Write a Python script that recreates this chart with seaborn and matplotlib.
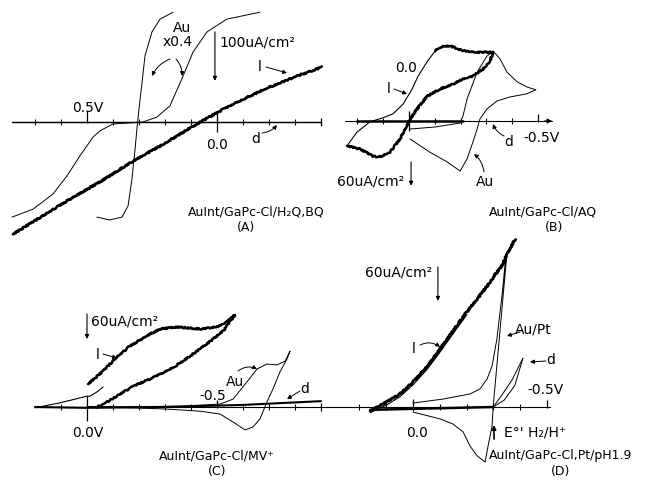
import matplotlib
matplotlib.use("Agg")
import matplotlib.pyplot as plt
import numpy as np
import pandas as pd
import seaborn as sns

# ---------------- data: potential E (V), current I (uA/cm^2) ----------------
# Panel A  AuInt/GaPc-Cl/H2Q,BQ
A_light_E = [0.785, 0.708, 0.577, 0.450, 0.323, 0.219, 0.065, -0.062, -0.192, -0.319, -0.404]
A_light_I = [-229, -204, -161, -122, -80, -49, 0, 37, 69, 96, 112]
A_au_wave_E = [0.788, 0.708, 0.631, 0.577, 0.527, 0.477, 0.450, 0.400, 0.285, 0.231, 0.181, 0.135, 0.092, 0.038, -0.038, -0.165]
A_au_wave_I = [-194, -178, -147, -110, -69, -31, -18, -4, 0, 10, 33, 88, 143, 184, 210, 224]
A_au_steep_E = [0.462, 0.412, 0.365, 0.342, 0.327, 0.315, 0.308, 0.300, 0.288, 0.277, 0.250, 0.219, 0.169]
A_au_steep_I = [-194, -200, -194, -171, -116, -55, -14, 27, 82, 135, 184, 210, 224]
A_dark_E = [0.79, -0.40]
A_dark_I = [0, 0]

# Panel B  AuInt/GaPc-Cl/AQ
B_light_thick_E = [0.240, 0.190, 0.140, 0.112, 0.074, 0.035, 0.008, -0.004, -0.031, -0.070, -0.120, -0.171,
                   -0.209, -0.248, -0.287, -0.314, -0.326, -0.287, -0.236, -0.198, -0.159, -0.120, -0.101]
B_light_thick_I = [-62, -70, -88, -90, -78, -45, -12, 5, 30, 62, 80, 92,
                   105, 112, 130, 150, 172, 172, 172, 178, 188, 185, 175]
B_light_thin_E = [-0.101, -0.070, -0.035, -0.012, 0.023, 0.062, 0.101, 0.151, 0.202, 0.240]
B_light_thin_I = [175, 148, 112, 80, 42, 18, 8, -2, -28, -62]
B_au_E = [-0.004, -0.101, -0.198, -0.209, -0.225, -0.264, -0.302, -0.326, -0.353, -0.380, -0.419, -0.457, -0.492,
          -0.457, -0.391, -0.341, -0.302, -0.275, -0.264, -0.248, -0.225, -0.198, -0.147, -0.081, -0.004]
B_au_I = [-20, -15, -5, 12, 55, 122, 162, 175, 155, 122, 98, 85, 78,
          68, 60, 50, 30, 5, -20, -52, -95, -125, -102, -78, -45]
B_dark_E = [0.20, -0.21]
B_dark_I = [0, 0]

# Panel C  AuInt/GaPc-Cl/MV+
C_light_thin_E = [0.200, 0.104, 0.0, -0.012, -0.038, -0.062]
C_light_thin_I = [-2, 10, 26, 26, 36, 48]
C_light_E = [-0.004, -0.062, -0.115, -0.165, -0.242, -0.281, -0.346, -0.435, -0.500, -0.538, -0.569,
             -0.550, -0.523, -0.485, -0.435, -0.369, -0.308, -0.242, -0.177, -0.115, -0.062, -0.038]
C_light_I = [55, 86, 120, 146, 175, 187, 192, 187, 192, 204, 221,
             204, 182, 163, 139, 110, 86, 67, 50, 26, 7, 0]
C_au_E = [0.0, -0.358, -0.512, -0.562, -0.615, -0.654, -0.692, -0.731, -0.762, -0.781, -0.769, -0.742,
          -0.715, -0.692, -0.665, -0.638, -0.608, -0.562, -0.512, -0.435, -0.308, -0.177, -0.050, 0.0]
C_au_I = [0, 2, 7, 19, 60, 91, 103, 101, 110, 134, 115, 84,
          43, 12, -29, -48, -55, -36, -17, -10, -5, -2, 0, 0]
C_dark_E = [0.20, 0.0, -0.30, -0.60, -0.90]
C_dark_I = [0, -2, 0, 5, 14]

# Panel D  AuInt/GaPc-Cl,Pt/pH1.9
D_light_E = [0.160, 0.097, 0.049, 0.0, -0.052, -0.101, -0.149, -0.201, -0.239, -0.276, -0.313, -0.332, -0.354, -0.381]
D_light_I = [-7, 9, 23, 44, 71, 102, 134, 168, 190, 213, 238, 249, 273, 296]
D_light_ret_E = [-0.201, -0.149, -0.101, -0.052, 0.0, 0.049, 0.097, 0.160]
D_light_ret_I = [163, 129, 97, 66, 39, 18, 4, -10]
D_aupt_E = [0.0, -0.112, -0.213, -0.250, -0.276, -0.295, -0.313, -0.332, -0.343, -0.351,
            -0.299, -0.295, -0.280, -0.269, -0.239, -0.213, -0.187, -0.149, -0.101, -0.026, 0.0]
D_aupt_I = [7, 14, 23, 32, 49, 72, 120, 196, 249, 273,
            0, -34, -69, -97, -86, -69, -44, -30, -21, -12, -9]
D_dark_base_E = [0.160, -0.299]
D_dark_base_I = [-5, 0]
D_dark_a_E = [-0.299, -0.340, -0.380, -0.410]
D_dark_a_I = [0, 12, 38, 86]
D_dark_b_E = [-0.410, -0.370, -0.330, -0.299]
D_dark_b_I = [86, 48, 20, 0]

# potential-axis ticks (V)
A_ticks = [0.7, 0.6, 0.4, 0.3, 0.2, 0.1, -0.1, -0.2, -0.3]
B_ticks = [0.2, 0.1, -0.1, -0.2, -0.3, -0.4]
C_ticks = [0.1, -0.1, -0.2, -0.3, -0.4, -0.6, -0.7, -0.8]
D_ticks = [0.2, 0.1, -0.1, -0.2, -0.3, -0.4]

# ---------------- figure ----------------
sns.set_theme(style="white")
plt.rcParams["font.family"] = ["DejaVu Sans"]

W, H = 645, 481
fig = plt.figure(figsize=(W / 100, H / 100), dpi=100)
fig.patch.set_facecolor("white")

LBL = 10   # label font size
TTL = 9    # caption font size


def make_ax(box, e0px, ppv, y0px, ppu):
    x0, y0, x1, y1 = box
    ax = fig.add_axes([x0 / W, 1 - y1 / H, (x1 - x0) / W, (y1 - y0) / H])
    ax.patch.set_alpha(0)
    lims = ((e0px - x0) / ppv, (e0px - x1) / ppv), ((y0px - y1) / ppu, (y0px - y0) / ppu)
    return ax, lims, ppu


def curve(ax, E, I, lw, noisy=False):
    df = pd.DataFrame({"E": E, "I": I})
    sns.lineplot(data=df, x="E", y="I", sort=False, estimator=None, ax=ax,
                 color="black", lw=lw, legend=False)
    ln = ax.lines[-1]
    ln.set_clip_on(False)
    ln.set_solid_capstyle("round")
    ln.set_solid_joinstyle("round")
    if noisy:
        ln.set_sketch_params(scale=0.7, length=1.2, randomness=2)


def axis_line(ax, ends, ticks, ppu, special, arrow=False):
    ax.plot(ends, [0, 0], color="black", lw=0.8, clip_on=False)
    ax.vlines(ticks, -3 / ppu, 3 / ppu, color="black", lw=0.8, clip_on=False)
    for e, up, dn in special:
        ax.vlines([e], -dn / ppu, up / ppu, color="black", lw=0.9, clip_on=False)
    if arrow:
        ax.annotate("", xy=(ends[1], 0), xytext=(ends[1] + 0.03, 0),
                    arrowprops=dict(arrowstyle="-|>", color="black", lw=0.8, mutation_scale=7,
                                    shrinkA=0, shrinkB=0))


def scale_bar(ax, e, i_low, length):
    ax.annotate("", xy=(e, i_low), xytext=(e, i_low + length),
                arrowprops=dict(arrowstyle="-|>", color="black", lw=0.8, mutation_scale=6,
                                shrinkA=0, shrinkB=0))


def finish(ax, lims):
    ax.set_xlim(*lims[0])
    ax.set_ylim(*lims[1])
    ax.set_axis_off()


# ---- Panel A ----
axA, limA, ppuA = make_ax((0, 0, 323, 242), 217, 260, 123, 0.49)
axis_line(axA, [0.79, -0.40], A_ticks, ppuA, [(0.5, 11, 1), (0.0, 11, 10), (-0.40, 4, 4)])
curve(axA, A_dark_E, A_dark_I, 1.0)
curve(axA, A_au_wave_E, A_au_wave_I, 0.7)
curve(axA, A_au_steep_E, A_au_steep_I, 0.7)
curve(axA, A_light_E, A_light_I, 1.9, noisy=True)
scale_bar(axA, 0.008, 84, 100)
finish(axA, limA)

# ---- Panel B ----
axB, limB, ppuB = make_ax((323, 0, 645, 242), 409, 258, 122, 0.40)
axis_line(axB, [0.25, -0.555], B_ticks, ppuB, [(0.0, 10, 10), (-0.5, 7, 1)], arrow=True)
curve(axB, B_dark_E, B_dark_I, 1.8)
curve(axB, B_au_E, B_au_I, 0.7)
curve(axB, B_light_thin_E, B_light_thin_I, 0.8)
curve(axB, B_light_thick_E, B_light_thick_I, 1.8, noisy=True)
scale_bar(axB, -0.008, -162, 60)
finish(axB, limB)

# ---- Panel C ----
axC, limC, ppuC = make_ax((0, 242, 323, 481), 87, 260, 408, 0.417)
axis_line(axC, [0.20, -0.90], C_ticks, ppuC, [(0.0, 11, 14), (-0.5, 7, 1), (-0.9, 4, 4)])
curve(axC, C_dark_E, C_dark_I, 1.5)
curve(axC, C_au_E, C_au_I, 0.7)
curve(axC, C_light_thin_E, C_light_thin_I, 0.8)
curve(axC, C_light_E, C_light_I, 1.8, noisy=True)
scale_bar(axC, 0.0, 163, 60)
finish(axC, limC)

# ---- Panel D ----
axD, limD, ppuD = make_ax((323, 242, 645, 481), 413, 268, 408, 0.567)
axis_line(axD, [0.34, -0.511], D_ticks, ppuD, [(0.0, 8, 4), (-0.5, 7, 1)])
curve(axD, D_dark_base_E, D_dark_base_I, 1.8)
curve(axD, D_dark_a_E, D_dark_a_I, 0.7)
curve(axD, D_dark_b_E, D_dark_b_I, 0.7)
curve(axD, D_aupt_E, D_aupt_I, 0.7)
curve(axD, D_light_ret_E, D_light_ret_I, 0.8)
curve(axD, D_light_E, D_light_I, 2.0, noisy=True)
scale_bar(axD, -0.093, 187, 60)
finish(axD, limD)

# ---- overlay for labels, in pixel coordinates (y downward) ----
ov = fig.add_axes([0, 0, 1, 1])
ov.set_xlim(0, W)
ov.set_ylim(H, 0)
ov.set_axis_off()
ov.patch.set_alpha(0)


def T(x, y, s, size=LBL, ha="center"):
    ov.text(x, y, s, ha=ha, va="center", fontsize=size, color="black")


def ARR(x0, y0, x1, y1, rad=0.0):
    ov.annotate("", xy=(x1, y1), xytext=(x0, y0),
                arrowprops=dict(arrowstyle="-|>", color="black", lw=0.7, mutation_scale=6,
                                shrinkA=0, shrinkB=0, connectionstyle=f"arc3,rad={rad}"))


# A
T(182, 28, "Au")
T(178, 42, "x0.4")
ARR(170, 60, 152, 77, rad=0.2)
ARR(176, 60, 182, 77, rad=-0.2)
T(219, 42, "100uA/cm²", ha="left")
T(88, 108, "0.5V")
T(217, 145, "0.0")
T(260, 67, "l")
ARR(266, 68, 287, 74)
T(256, 139, "d")
ARR(262, 134, 277, 126, rad=0.2)
T(256, 212, "AuInt/GaPc-Cl/H₂Q,BQ", size=TTL)
T(246, 228, "(A)", size=TTL)

# B
T(406, 68, "0.0")
T(389, 89, "l")
ARR(394, 90, 407, 95)
T(404, 182, "60uA/cm²", ha="right")
T(485, 182, "Au")
ARR(484, 173, 474, 155, rad=0.2)
T(509, 142, "d")
ARR(504, 137, 493, 125, rad=-0.2)
T(541, 138, "-0.5V")
T(543, 212, "AuInt/GaPc-Cl/AQ", size=TTL)
T(554, 228, "(B)", size=TTL)

# C
T(91, 322, "60uA/cm²", ha="left")
T(98, 355, "l")
ARR(103, 355, 117, 359)
T(235, 382, "Au")
ARR(238, 372, 257, 370, rad=-0.3)
T(213, 396, "-0.5")
T(305, 389, "d")
ARR(300, 392, 287, 400)
T(88, 433, "0.0V")
T(217, 456, "AuInt/GaPc-Cl/MV⁺", size=TTL)
T(217, 472, "(C)", size=TTL)

# D
T(432, 273, "60uA/cm²", ha="right")
T(414, 349, "l")
ARR(420, 346, 440, 348, rad=-0.3)
T(533, 330, "Au/Pt")
ARR(520, 333, 507, 337)
T(551, 360, "d")
ARR(546, 362, 530, 363)
T(546, 390, "-0.5V")
T(417, 433, "0.0")
T(504, 433, "E°' H₂/H⁺", ha="left")
ov.annotate("", xy=(494, 426), xytext=(494, 440),
            arrowprops=dict(arrowstyle="-|>", color="black", lw=1.2, mutation_scale=6,
                            shrinkA=0, shrinkB=0))
T(561, 456, "AuInt/GaPc-Cl,Pt/pH1.9", size=TTL)
T(561, 472, "(D)", size=TTL)

fig.savefig("out.png", dpi=100, facecolor="white")
